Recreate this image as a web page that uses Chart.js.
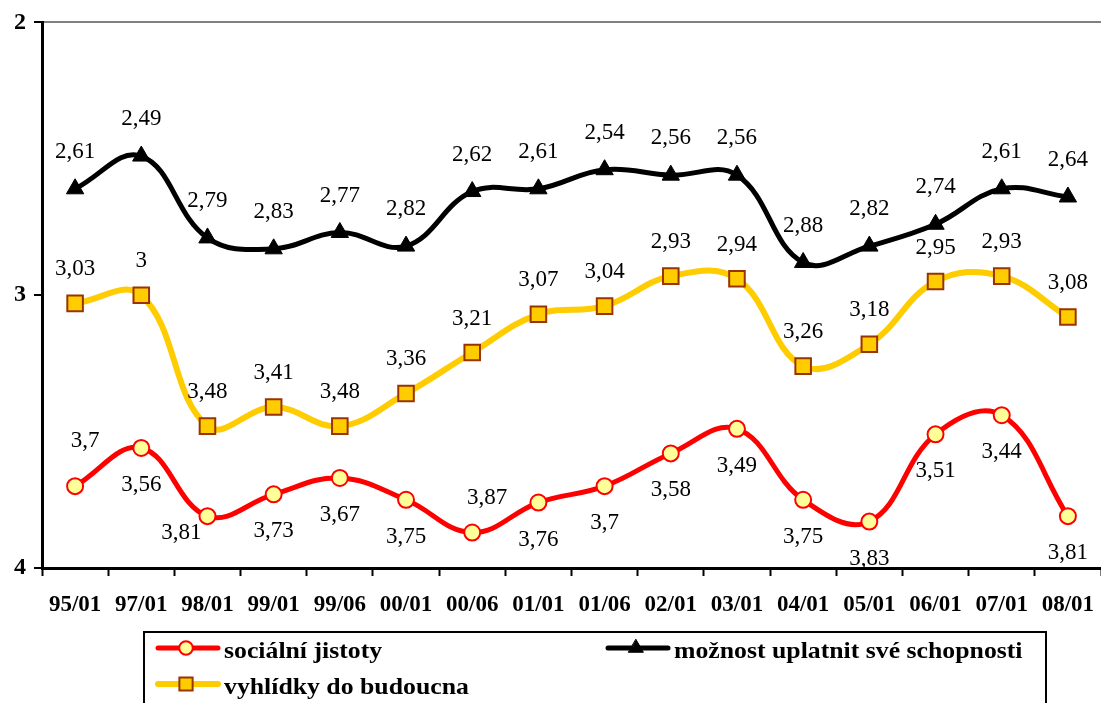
<!DOCTYPE html>
<html>
<head>
<meta charset="utf-8">
<script src="https://cdn.jsdelivr.net/npm/chart.js@4.4.0/dist/chart.umd.min.js"></script>
<style>
	html, body { margin: 0; padding: 0; background: #fff; overflow: hidden; }
	canvas { display: block; }
</style>
</head>
<body>
<canvas id="chart" width="1101" height="703"></canvas>
<script>
const periods = ['95/01', '97/01', '98/01', '99/01', '99/06', '00/01', '00/06', '01/01',
	'01/06', '02/01', '03/01', '04/01', '05/01', '06/01', '07/01', '08/01'];
const socialniJistoty = [3.7, 3.56, 3.81, 3.73, 3.67, 3.75, 3.87, 3.76, 3.7, 3.58, 3.49, 3.75, 3.83, 3.51, 3.44, 3.81];
const moznostUplatnit = [2.61, 2.49, 2.79, 2.83, 2.77, 2.82, 2.62, 2.61, 2.54, 2.56, 2.56, 2.88, 2.82, 2.74, 2.61, 2.64];
const vyhlidky = [3.03, 3, 3.48, 3.41, 3.48, 3.36, 3.21, 3.07, 3.04, 2.93, 2.94, 3.26, 3.18, 2.95, 2.93, 3.08];
const yTicks = [2, 3, 4];

const SERIF = '"Liberation Serif", "Times New Roman", serif';

let fmt = v => String(v).replace('.', ',');

// value labels next to each point, offset per series (a few are nudged like in the original)
const valueLabels = {
	id: 'valueLabels',
	afterDatasetsDraw(chart) {
		let ctx = chart.ctx;
		ctx.save();
		ctx.font = '23px ' + SERIF;
		ctx.fillStyle = '#000';
		ctx.textAlign = 'center';
		ctx.textBaseline = 'middle';
		chart.data.datasets.forEach((ds, di) => {
			let meta = chart.getDatasetMeta(di);
			meta.data.forEach((pt, i) => {
				let nudge = (ds.labelNudge && ds.labelNudge[i]) || [0, 0];
				ctx.fillText(fmt(ds.data[i]), pt.x + nudge[0], pt.y + ds.labelDy + nudge[1]);
			});
		});
		ctx.restore();
	}
};

let drawMarker = (ctx, ds, x, y, r) => {
	ctx.beginPath();
	if (ds.pointStyle === 'triangle') {
		ctx.moveTo(x, y - r);
		ctx.lineTo(x + r * 0.866, y + r * 0.5);
		ctx.lineTo(x - r * 0.866, y + r * 0.5);
		ctx.closePath();
	} else if (ds.pointStyle === 'rect') {
		let s = r * Math.SQRT1_2;
		ctx.rect(x - s, y - s, 2 * s, 2 * s);
	} else {
		ctx.arc(x, y, r, 0, Math.PI * 2);
	}
	ctx.fillStyle = ds.pointBackgroundColor;
	ctx.fill();
	ctx.lineWidth = ds.pointBorderWidth;
	ctx.strokeStyle = ds.pointBorderColor;
	ctx.stroke();
};

// boxed legend: two columns, like the original
const boxLegend = {
	id: 'boxLegend',
	afterDraw(chart) {
		let ctx = chart.ctx;
		let slots = [[158, 648], [608, 648], [158, 684]];
		ctx.save();
		ctx.lineWidth = 2;
		ctx.strokeStyle = '#000';
		ctx.strokeRect(144, 632, 902, 80);
		chart.data.datasets.forEach((ds, i) => {
			let [x, y] = slots[i];
			ctx.beginPath();
			ctx.lineCap = 'round';
			ctx.lineWidth = ds.borderWidth;
			ctx.strokeStyle = ds.borderColor;
			ctx.moveTo(x, y);
			ctx.lineTo(x + 60, y);
			ctx.stroke();
			drawMarker(ctx, ds, x + 28, y, ds.pointRadius * 0.85);
			ctx.save();
			ctx.translate(x + 66, y + 4);
			ctx.scale(1.12, 1);
			ctx.font = 'bold 23px ' + SERIF;
			ctx.fillStyle = '#000';
			ctx.textBaseline = 'middle';
			ctx.fillText(ds.label, 0, 0);
			ctx.restore();
		});
		ctx.restore();
	}
};

new Chart(document.getElementById('chart'), {
	type: 'line',
	data: {
		labels: periods,
		datasets: [{
			label: 'sociální jistoty',
			data: socialniJistoty,
			borderColor: '#ff0000',
			borderWidth: 5,
			tension: 0.4,
			pointStyle: 'circle',
			pointRadius: 8,
			pointBackgroundColor: '#ffff99',
			pointBorderColor: '#ff0000',
			pointBorderWidth: 2,
			labelDy: 37,
			labelNudge: {0: [10, -82], 2: [-26, -20], 6: [15, -72]}
		}, {
			label: 'možnost uplatnit své schopnosti',
			data: moznostUplatnit,
			borderColor: '#000000',
			borderWidth: 5,
			tension: 0.4,
			pointStyle: 'triangle',
			pointRadius: 10,
			pointBackgroundColor: '#000000',
			pointBorderColor: '#000000',
			pointBorderWidth: 1,
			labelDy: -37
		}, {
			label: 'vyhlídky do budoucna',
			data: vyhlidky,
			borderColor: '#ffcc00',
			borderWidth: 6,
			tension: 0.4,
			pointStyle: 'rect',
			pointRadius: 11,
			pointBackgroundColor: '#ffcc00',
			pointBorderColor: '#993300',
			pointBorderWidth: 2,
			labelDy: -34
		}]
	},
	options: {
		responsive: false,
		animation: false,
		devicePixelRatio: 1,
		layout: { autoPadding: false, padding: { top: 20, left: 0, right: 0, bottom: 0 } },
		plugins: {
			legend: { display: false },
			tooltip: { enabled: false }
		},
		scales: {
			x: {
				offset: true,
				grid: { offset: true, drawOnChartArea: false, drawTicks: true, tickLength: 8, tickColor: '#000', tickWidth: 2 },
				border: { color: '#000', width: 3 },
				ticks: { color: '#000', font: { family: SERIF, size: 23, weight: 'bold' }, padding: 15, maxRotation: 0, autoSkip: false },
				afterFit: s => {
					s.height = 135;
					s.paddingLeft = 0;
					s.paddingRight = 0;
				}
			},
			y: {
				reverse: true,
				min: 2,
				max: 4,
				afterBuildTicks: s => { s.ticks = yTicks.map(v => ({ value: v })); },
				grid: {
					color: c => (c.tick && c.tick.value === 2) ? '#808080' : 'rgba(0,0,0,0)',
					lineWidth: 2,
					tickColor: '#000',
					tickLength: 8,
					tickWidth: 2
				},
				border: { color: '#000', width: 3 },
				ticks: { color: '#000', font: { family: SERIF, size: 24, weight: 'bold' }, padding: 8 },
				afterFit: s => { s.width = 42; }
			}
		}
	},
	plugins: [valueLabels, boxLegend]
});
</script>
</body>
</html>
